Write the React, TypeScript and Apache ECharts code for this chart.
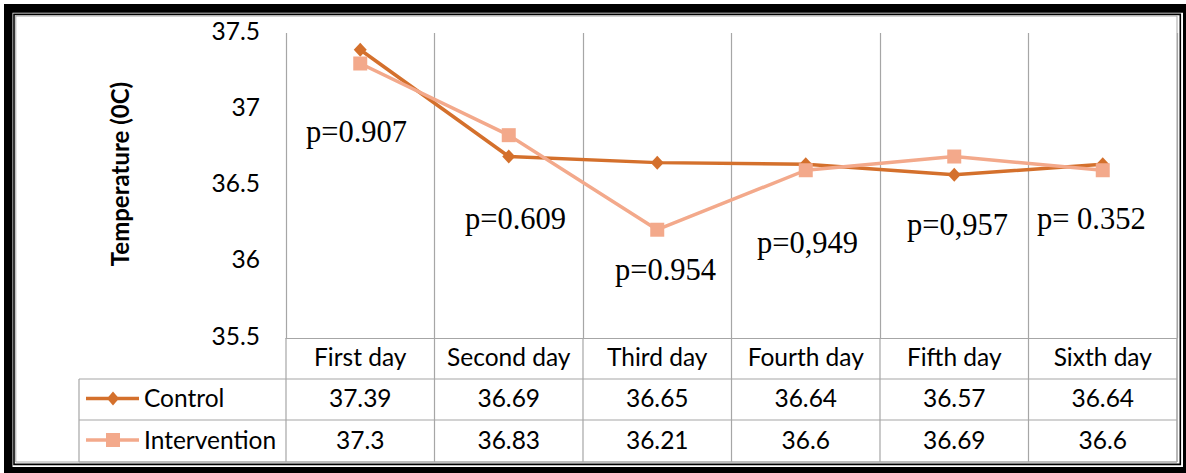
import React, { useEffect, useRef } from "react";
import * as echarts from "echarts";

const categories = ["First day", "Second day", "Third day", "Fourth day", "Fifth day", "Sixth day"];
const controlValues = [37.39, 36.69, 36.65, 36.64, 36.57, 36.64];
const interventionValues = [37.3, 36.83, 36.21, 36.6, 36.69, 36.6];
const seriesNames = ["Control", "Intervention"];
const pLabels = ["p=0.907", "p=0.609", "p=0.954", "p=0,949", "p=0,957", "p= 0.352"];
const yMin = 35.5;
const yMax = 37.5;
const yInterval = 0.5;
const yTitle = "Temperature (0C)";

// layout (pixels)
const W = 1186;
const H = 473;
const PL = 286;
const PR = 1177;
const PT = 33;
const PB = 338;
const ROW1 = 379;
const ROW2 = 420;
const ROW3 = 462;
const TABLE_LEFT = 79;
const pPos = [
  [306, 132],
  [465, 219],
  [615, 270],
  [757, 243],
  [907, 225],
  [1037, 219],
];

const C_CONTROL = "#D4702C";
const C_INTER = "#F3A98B";
const GRID = "#A6A6A6";
const SANS = "Lato, 'Noto Sans', sans-serif";
const FS = 24.5;

export default function App() {
  const ref = useRef<HTMLDivElement>(null);
  useEffect(() => {
    const chart = echarts.init(ref.current!, null, { renderer: "svg" });
    const colW = (PR - PL) / categories.length;
    const g: any[] = [];
    // frame
    const blk = { fill: "#000" };
    g.push({ type: "rect", shape: { x: 4, y: 4, width: W - 4, height: 8.7 }, style: blk, silent: true });
    g.push({ type: "rect", shape: { x: 4, y: 4, width: 8.5, height: H - 4 }, style: blk, silent: true });
    g.push({ type: "rect", shape: { x: 1183, y: 4, width: 3, height: H - 4 }, style: blk, silent: true });
    g.push({ type: "rect", shape: { x: 4, y: 467, width: W - 4, height: 6 }, style: blk, silent: true });
    g.push({ type: "rect", shape: { x: 14, y: 14.4, width: 1166.3, height: 450 }, style: { fill: "none", stroke: "#000", lineWidth: 1.6 }, silent: true });
    g.push({ type: "rect", shape: { x: 15.8, y: 16, width: PR - 15.8, height: ROW3 - 16 }, style: { fill: "none", stroke: GRID, lineWidth: 1 }, silent: true });
    // table lines
    const ln = (x1: number, y1: number, x2: number, y2: number) =>
      g.push({ type: "line", shape: { x1, y1, x2, y2 }, style: { stroke: GRID, lineWidth: 1.2 }, silent: true });
    ln(TABLE_LEFT, ROW1, PR, ROW1);
    ln(TABLE_LEFT, ROW2, PR, ROW2);
    ln(TABLE_LEFT, ROW3, PR, ROW3);
    ln(TABLE_LEFT, ROW1, TABLE_LEFT, ROW3);
    for (let k = 0; k <= categories.length; k++) {
      const x = PL + k * colW;
      ln(x, PB, x, ROW3);
    }
    // legend keys + names
    const rowsY = [(ROW1 + ROW2) / 2 - 2, (ROW2 + ROW3) / 2 - 2];
    const keyY = [(ROW1 + ROW2) / 2 - 1, (ROW2 + ROW3) / 2 - 1];
    const keyX1 = 86, keyX2 = 139, keyC = 113;
    [C_CONTROL, C_INTER].forEach((c, i) => {
      g.push({ type: "line", shape: { x1: keyX1, y1: keyY[i], x2: keyX2, y2: keyY[i] }, style: { stroke: c, lineWidth: 3.5 }, silent: true });
    });
    g.push({
      type: "polygon",
      shape: { points: [[keyC, keyY[0] - 7], [keyC + 6, keyY[0]], [keyC, keyY[0] + 7], [keyC - 6, keyY[0]]] },
      style: { fill: C_CONTROL },
      silent: true,
    });
    g.push({ type: "rect", shape: { x: keyC - 7, y: keyY[1] - 7, width: 14, height: 14 }, style: { fill: C_INTER }, silent: true });
    seriesNames.forEach((n, i) => {
      g.push({ type: "text", x: 144, y: rowsY[i], style: { text: n, font: `${FS}px ${SANS}`, fill: "#000", textAlign: "left", textVerticalAlign: "middle" }, silent: true });
    });
    // table values
    [controlValues, interventionValues].forEach((vals, r) => {
      vals.forEach((v, i) => {
        g.push({
          type: "text",
          x: PL + (i + 0.5) * colW,
          y: rowsY[r],
          style: { text: String(v), font: `${FS}px ${SANS}`, fill: "#000", textAlign: "center", textVerticalAlign: "middle" },
          silent: true,
        });
      });
    });
    // y title
    g.push({
      type: "text",
      x: 119,
      y: 174,
      rotation: Math.PI / 2,
      style: { text: yTitle, font: `bold 24px ${SANS}`, fill: "#000", textAlign: "center", textVerticalAlign: "middle" },
      silent: true,
    });
    // p labels
    pPos.forEach((p, i) => {
      g.push({
        type: "text",
        x: p[0],
        y: p[1],
        style: { text: pLabels[i], font: `30.5px 'Liberation Serif', 'Times New Roman', serif`, fill: "#000", textAlign: "left", textVerticalAlign: "middle" },
        silent: true,
      });
    });

    chart.setOption({
      animation: false,
      backgroundColor: "transparent",
      grid: { left: PL, right: W - PR, top: PT, bottom: H - PB, containLabel: false },
      xAxis: {
        type: "category",
        data: categories,
        boundaryGap: true,
        axisLine: { show: true, lineStyle: { color: GRID, width: 1.2 } },
        axisTick: { show: false },
        axisLabel: { color: "#000", fontSize: FS, fontFamily: SANS, margin: 6, interval: 0 },
        splitLine: { show: true, lineStyle: { color: GRID, width: 1.2 } },
      },
      yAxis: {
        type: "value",
        min: yMin,
        max: yMax,
        interval: yInterval,
        axisLine: { show: false },
        axisTick: { show: false },
        splitLine: { show: false },
        axisLabel: { color: "#000", fontSize: FS, fontFamily: SANS, margin: 26, verticalAlign: "bottom", lineHeight: 6 },
      },
      series: [
        {
          name: seriesNames[0],
          type: "line",
          data: controlValues,
          symbol: "diamond",
          symbolSize: [13, 14],
          itemStyle: { color: C_CONTROL },
          lineStyle: { color: C_CONTROL, width: 3.5 },
          z: 3,
        },
        {
          name: seriesNames[1],
          type: "line",
          data: interventionValues,
          symbol: "rect",
          symbolSize: 14,
          itemStyle: { color: C_INTER },
          lineStyle: { color: C_INTER, width: 3.5 },
          z: 4,
        },
      ],
      graphic: g,
    });
    return () => chart.dispose();
  }, []);
  return (
    <div
      ref={ref}
      style={{ position: "fixed", left: 0, top: 0, width: W, height: H, background: "#fff" }}
    />
  );
}
